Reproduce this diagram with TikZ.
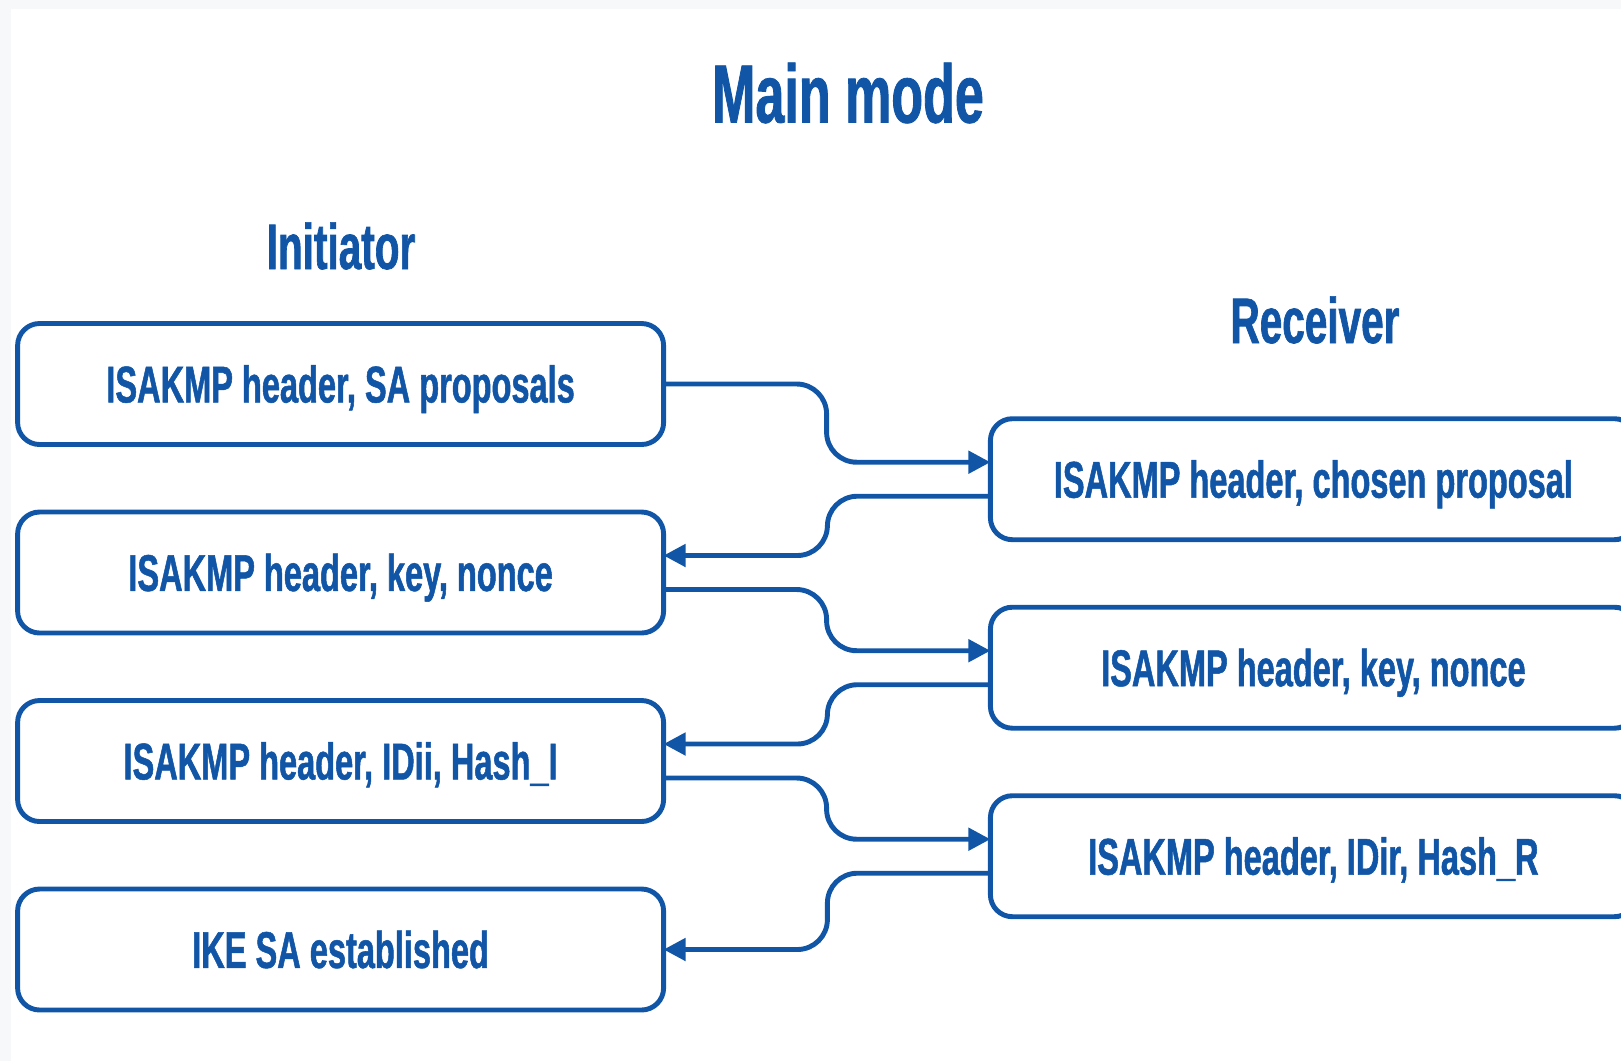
\documentclass[tikz,border=0pt]{standalone}
\usepackage{fontspec}
\setmainfont{Liberation Sans}[FakeStretch=0.63, BoldFeatures={FakeBold=1}]
\usetikzlibrary{arrows.meta}

\definecolor{ikeblue}{HTML}{1055A6}
\definecolor{pagegray}{HTML}{F7F8FA}

\tikzset{
  msgbox/.style={outer sep=0, inner sep=0, draw=ikeblue, line width=1.4pt, rounded corners=2.2mm,
    minimum width=6.46cm, minimum height=1.21cm, align=center, text=ikeblue,
    text height=10.5pt, text depth=0pt,
    font=\bfseries\fontsize{14.7}{16}\selectfont},
  party/.style={text=ikeblue, font=\bfseries\fontsize{18.3}{20}\selectfont},
  msg/.style={draw=ikeblue, line width=1.4pt, rounded corners=3mm, -{Triangle[length=2.2mm,width=2.2mm]}},
}

\begin{document}
\begin{tikzpicture}
  \clip (0,0) rectangle (16.21,-10.61);
  \fill[pagegray] (0,0) rectangle (16.21,-10.61);
  \fill[white] (0.11,-0.09) rectangle (16.21,-10.61);

  \draw (8.48,-0.93) node[text=ikeblue, font=\bfseries\fontsize{23.5}{26}\selectfont] (title) {Main mode};
  \draw (3.41,-2.46) node[party] (init) {Initiator};
  \draw (13.15,-3.20) node[party] (recv) {Receiver};

  % initiator side
  \draw (3.406,-3.84) node[msgbox] (i1) {ISAKMP header, SA proposals};
  \draw (i1.south) ++(0,-0.675) node[anchor=north, msgbox] (i2) {ISAKMP header, key, nonce};
  \draw (i2.south) ++(0,-0.675) node[anchor=north, msgbox] (i3) {ISAKMP header, IDii, Hash\_I};
  \draw (i3.south) ++(0,-0.675) node[anchor=north, msgbox] (i4) {IKE SA established};

  % receiver side
  \draw (13.134,-4.792) node[msgbox] (r1) {ISAKMP header, chosen proposal};
  \draw (r1.south) ++(0,-0.675) node[anchor=north, msgbox] (r2) {ISAKMP header, key, nonce};
  \draw (r2.south) ++(0,-0.675) node[anchor=north, msgbox] (r3) {ISAKMP header, IDir, Hash\_R};

  % messages back and forth
  \draw[msg] (i1.east) -- ++(1.63,0) |- ([yshift=1.7mm]r1.west);
  \draw[msg] ([yshift=-1.7mm]r1.west) -- ++(-1.63,0) |- ([yshift=1.7mm]i2.east);
  \draw[msg] ([yshift=-1.7mm]i2.east) -- ++(1.63,0) |- ([yshift=1.7mm]r2.west);
  \draw[msg] ([yshift=-1.7mm]r2.west) -- ++(-1.63,0) |- ([yshift=1.7mm]i3.east);
  \draw[msg] ([yshift=-1.7mm]i3.east) -- ++(1.63,0) |- ([yshift=1.7mm]r3.west);
  \draw[msg] ([yshift=-1.7mm]r3.west) -- ++(-1.63,0) |- (i4.east);
\end{tikzpicture}
\end{document}
